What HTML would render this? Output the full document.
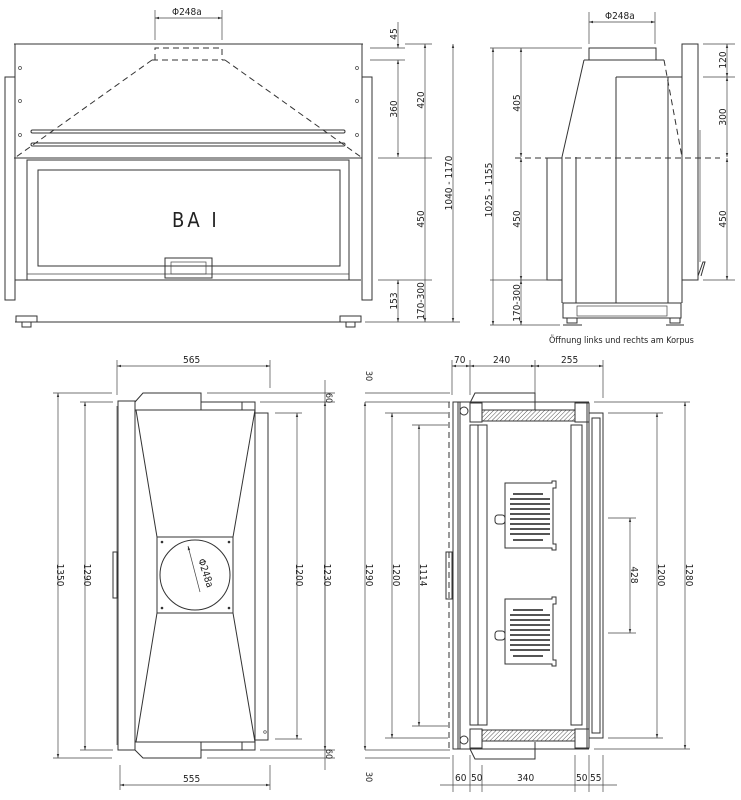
<!DOCTYPE html>
<html><head><meta charset="utf-8"><style>
html,body{margin:0;padding:0;background:#fff;}
svg{display:block;}
text{font-family:"DejaVu Sans Condensed","Liberation Sans",sans-serif;font-size:10px;fill:#222;}
.l{stroke:#333;stroke-width:1;fill:none;}
.t{stroke:#444;stroke-width:0.7;fill:none;}
.d{stroke:#333;stroke-width:1;fill:none;stroke-dasharray:6,4;}
</style></head><body>
<svg width="741" height="800" viewBox="0 0 741 800" xmlns="http://www.w3.org/2000/svg">
<defs>
<marker id="a" viewBox="0 0 10 10" refX="10" refY="5" markerWidth="6" markerHeight="6" orient="auto-start-reverse"><path d="M0,2 L10,5 L0,8 z" fill="#333"/></marker>
<pattern id="h" width="3" height="3" patternUnits="userSpaceOnUse" patternTransform="rotate(45)"><line x1="0" y1="0" x2="0" y2="3" stroke="#555" stroke-width="1"/></pattern>
</defs>

<!-- ========== FRONT VIEW ========== -->
<g>
<line class="t" x1="155" y1="10" x2="155" y2="40"/><line class="t" x1="222" y1="10" x2="222" y2="40"/>
<line class="t" x1="155" y1="18" x2="222" y2="18" marker-start="url(#a)" marker-end="url(#a)"/>
<text x="172" y="15">Φ248a</text>
<line class="l" x1="14" y1="44" x2="363" y2="44"/>
<line class="l" x1="15" y1="44" x2="15" y2="300"/><line class="l" x1="362" y1="44" x2="362" y2="300"/>
<rect class="l" x="5" y="77" width="10" height="223"/>
<rect class="l" x="362" y="77" width="10" height="223"/>
<path class="d" d="M155,60 V48 H222 V60"/>
<line class="d" x1="152" y1="60" x2="225" y2="60" stroke-width="2"/>
<line class="d" x1="152" y1="60" x2="16" y2="157"/><line class="d" x1="225" y1="60" x2="361" y2="157"/>
<rect class="l" x="31" y="130" width="314" height="3" rx="1.5"/>
<rect class="l" x="31" y="143" width="314" height="3" rx="1.5"/>
<line class="l" x1="14" y1="158" x2="362" y2="158"/>
<circle class="t" cx="20" cy="68" r="1.5"/><circle class="t" cx="20" cy="101" r="1.5"/><circle class="t" cx="20" cy="135" r="1.5"/>
<circle class="t" cx="357" cy="68" r="1.5"/><circle class="t" cx="357" cy="101" r="1.5"/><circle class="t" cx="357" cy="135" r="1.5"/>
<rect class="l" x="27" y="160" width="322" height="120"/>
<rect class="l" x="38" y="170" width="302" height="96"/>
<line class="t" x1="27" y1="274" x2="349" y2="274"/>
<rect class="l" x="165" y="258" width="47" height="20"/>
<rect class="t" x="171" y="262" width="35" height="12"/>
<text x="172" y="227" style="font-size:20px;letter-spacing:3px">BA I</text>
<line class="l" x1="15" y1="280" x2="361" y2="280"/>
<line class="l" x1="15" y1="322" x2="361" y2="322"/>
<rect class="l" x="16" y="316" width="21" height="6"/><rect class="l" x="22" y="322" width="9" height="5"/>
<rect class="l" x="340" y="316" width="21" height="6"/><rect class="l" x="346" y="322" width="9" height="5"/>
<!-- dims -->
<line class="t" x1="370" y1="48" x2="405" y2="48"/><line class="t" x1="370" y1="60" x2="405" y2="60"/>
<line class="t" x1="405" y1="44" x2="432" y2="44"/>
<line class="t" x1="378" y1="158" x2="432" y2="158"/>
<line class="t" x1="378" y1="280" x2="432" y2="280"/>
<line class="t" x1="365" y1="322" x2="460" y2="322"/>
<line class="t" x1="398" y1="22" x2="398" y2="48" marker-end="url(#a)"/>
<line class="t" x1="398" y1="60" x2="398" y2="157" marker-start="url(#a)" marker-end="url(#a)"/>
<line class="t" x1="398" y1="280" x2="398" y2="322" marker-start="url(#a)" marker-end="url(#a)"/>
<line class="t" x1="425" y1="44" x2="425" y2="322" marker-start="url(#a)" marker-end="url(#a)"/>
<line class="t" x1="453" y1="44" x2="453" y2="322" marker-start="url(#a)" marker-end="url(#a)"/>
<text transform="translate(397,34) rotate(-90)" text-anchor="middle">45</text>
<text transform="translate(397,109) rotate(-90)" text-anchor="middle">360</text>
<text transform="translate(424,100) rotate(-90)" text-anchor="middle">420</text>
<text transform="translate(424,219) rotate(-90)" text-anchor="middle">450</text>
<text transform="translate(397,301) rotate(-90)" text-anchor="middle">153</text>
<text transform="translate(424,301) rotate(-90)" text-anchor="middle">170-300</text>
<text transform="translate(452,183) rotate(-90)" text-anchor="middle">1040 - 1170</text>
</g>

<!-- ========== SIDE VIEW ========== -->
<g>
<line class="t" x1="589" y1="12" x2="589" y2="44"/><line class="t" x1="655" y1="12" x2="655" y2="44"/>
<line class="t" x1="589" y1="22" x2="655" y2="22" marker-start="url(#a)" marker-end="url(#a)"/>
<text x="605" y="19">Φ248a</text>
<rect class="l" x="589" y="48" width="67" height="12"/>
<line class="l" x1="584" y1="60" x2="664" y2="60"/>
<line class="l" x1="584" y1="60" x2="562" y2="157"/>
<line class="d" x1="664" y1="60" x2="682" y2="157"/>
<line class="l" x1="616" y1="77" x2="682" y2="77"/>
<line class="l" x1="616" y1="77" x2="616" y2="303"/>
<line class="l" x1="562" y1="157" x2="562" y2="303"/>
<line class="l" x1="576" y1="157" x2="576" y2="303"/>
<line class="l" x1="668" y1="77" x2="668" y2="303"/>
<line class="l" x1="682" y1="77" x2="682" y2="303"/>
<rect class="l" x="682" y="44" width="16" height="236"/>
<line class="t" x1="700" y1="130" x2="700" y2="262"/>
<path class="l" d="M698,276 L703,262 L705,262 L701,276"/>
<rect class="l" x="547" y="158" width="15" height="122"/>
<line class="d" x1="515" y1="158" x2="720" y2="158"/>
<rect class="l" x="563" y="303" width="118" height="15"/>
<rect class="t" x="577" y="306" width="90" height="10"/>
<rect class="l" x="567" y="318" width="10" height="5"/><rect class="l" x="670" y="318" width="10" height="5"/>
<line class="l" x1="563" y1="325" x2="582" y2="325"/><line class="l" x1="666" y1="325" x2="684" y2="325"/>
<!-- dims -->
<line class="t" x1="490" y1="48" x2="582" y2="48"/>
<line class="t" x1="490" y1="280" x2="558" y2="280"/>
<line class="t" x1="490" y1="325" x2="560" y2="325"/>
<line class="t" x1="703" y1="44" x2="735" y2="44"/>
<line class="t" x1="703" y1="77" x2="735" y2="77"/>
<line class="t" x1="703" y1="280" x2="735" y2="280"/>
<line class="t" x1="493" y1="48" x2="493" y2="325" marker-start="url(#a)" marker-end="url(#a)"/>
<line class="t" x1="521" y1="48" x2="521" y2="157" marker-start="url(#a)" marker-end="url(#a)"/>
<line class="t" x1="521" y1="158" x2="521" y2="280" marker-start="url(#a)" marker-end="url(#a)"/>
<line class="t" x1="521" y1="280" x2="521" y2="325" marker-start="url(#a)" marker-end="url(#a)"/>
<line class="t" x1="727" y1="44" x2="727" y2="77" marker-start="url(#a)" marker-end="url(#a)"/>
<line class="t" x1="727" y1="77" x2="727" y2="157" marker-start="url(#a)" marker-end="url(#a)"/>
<line class="t" x1="727" y1="158" x2="727" y2="280" marker-start="url(#a)" marker-end="url(#a)"/>
<text transform="translate(492,190) rotate(-90)" text-anchor="middle">1025 - 1155</text>
<text transform="translate(520,103) rotate(-90)" text-anchor="middle">405</text>
<text transform="translate(520,219) rotate(-90)" text-anchor="middle">450</text>
<text transform="translate(520,303) rotate(-90)" text-anchor="middle">170-300</text>
<text transform="translate(726,60) rotate(-90)" text-anchor="middle">120</text>
<text transform="translate(726,117) rotate(-90)" text-anchor="middle">300</text>
<text transform="translate(726,219) rotate(-90)" text-anchor="middle">450</text>
<text x="549" y="343" style="font-size:9px">Öffnung links und rechts am Korpus</text>
</g>

<!-- ========== TOP PLAN LEFT ========== -->
<g>
<line class="t" x1="117" y1="360" x2="117" y2="395"/><line class="t" x1="270" y1="360" x2="270" y2="388"/>
<line class="t" x1="117" y1="366" x2="270" y2="366" marker-start="url(#a)" marker-end="url(#a)"/>
<text x="183" y="363">565</text>
<path class="l" d="M135,402 L143,393 H201 V402"/>
<path class="l" d="M135,750 L143,758 H201 V750"/>
<rect class="l" x="201" y="402" width="54" height="8"/>
<rect class="l" x="201" y="742" width="54" height="8"/>
<line class="l" x1="242" y1="402" x2="242" y2="410"/><line class="l" x1="242" y1="742" x2="242" y2="750"/>
<rect class="l" x="118" y="401" width="17" height="349"/>
<line class="t" x1="117" y1="406" x2="117" y2="745"/>
<rect class="l" x="113" y="552" width="4" height="46"/>
<rect class="l" x="135" y="410" width="120" height="332"/>
<rect class="l" x="255" y="413" width="13" height="327"/>
<rect class="l" x="157" y="537" width="76" height="76"/>
<circle class="l" cx="195" cy="575" r="35"/>
<line class="t" x1="188" y1="546" x2="200" y2="592" marker-start="url(#a)"/>
<text transform="translate(198,560) rotate(72)" style="font-size:10px">Φ248a</text>
<circle cx="162" cy="542" r="1.3" fill="#333"/><circle cx="229" cy="542" r="1.3" fill="#333"/>
<circle cx="162" cy="608" r="1.3" fill="#333"/><circle cx="229" cy="608" r="1.3" fill="#333"/>
<circle class="t" cx="265" cy="732" r="1.3"/>
<line class="l" x1="136" y1="410" x2="157" y2="537"/><line class="l" x1="255" y1="410" x2="233" y2="537"/>
<line class="l" x1="136" y1="742" x2="157" y2="613"/><line class="l" x1="255" y1="742" x2="233" y2="613"/>
<!-- dims -->
<line class="t" x1="53" y1="393" x2="112" y2="393"/><line class="t" x1="53" y1="758" x2="112" y2="758"/>
<line class="t" x1="80" y1="402" x2="113" y2="402"/><line class="t" x1="80" y1="750" x2="113" y2="750"/>
<line class="t" x1="58" y1="393" x2="58" y2="758" marker-start="url(#a)" marker-end="url(#a)"/>
<line class="t" x1="85" y1="402" x2="85" y2="750" marker-start="url(#a)" marker-end="url(#a)"/>
<text transform="translate(57,575) rotate(90)" text-anchor="middle">1350</text>
<text transform="translate(84,575) rotate(90)" text-anchor="middle">1290</text>
<line class="t" x1="207" y1="393" x2="335" y2="393"/><line class="t" x1="207" y1="758" x2="335" y2="758"/>
<line class="t" x1="260" y1="402" x2="335" y2="402"/><line class="t" x1="260" y1="750" x2="335" y2="750"/>
<line class="t" x1="275" y1="413" x2="302" y2="413"/><line class="t" x1="275" y1="739" x2="302" y2="739"/>
<line class="t" x1="297" y1="413" x2="297" y2="739" marker-start="url(#a)" marker-end="url(#a)"/>
<line class="t" x1="325" y1="380" x2="325" y2="770"/>
<line class="t" x1="325" y1="402" x2="325" y2="750" marker-start="url(#a)" marker-end="url(#a)"/>
<text transform="translate(296,575) rotate(90)" text-anchor="middle">1200</text>
<text transform="translate(324,575) rotate(90)" text-anchor="middle">1230</text>
<text transform="translate(326,398) rotate(90)" text-anchor="middle" style="font-size:9px">60</text>
<text transform="translate(326,754) rotate(90)" text-anchor="middle" style="font-size:9px">60</text>
<line class="t" x1="120" y1="765" x2="120" y2="790"/><line class="t" x1="270" y1="765" x2="270" y2="790"/>
<line class="t" x1="120" y1="785" x2="270" y2="785" marker-start="url(#a)" marker-end="url(#a)"/>
<text x="183" y="782">555</text>
</g>

<!-- ========== TOP PLAN RIGHT ========== -->
<g>
<line class="t" x1="452" y1="360" x2="452" y2="395"/><line class="t" x1="470" y1="360" x2="470" y2="395"/>
<line class="t" x1="535" y1="360" x2="535" y2="405"/><line class="t" x1="603" y1="360" x2="603" y2="398"/>
<line class="t" x1="452" y1="366" x2="470" y2="366" marker-start="url(#a)" marker-end="url(#a)"/>
<line class="t" x1="470" y1="366" x2="535" y2="366" marker-start="url(#a)" marker-end="url(#a)"/>
<line class="t" x1="535" y1="366" x2="603" y2="366" marker-start="url(#a)" marker-end="url(#a)"/>
<text x="454" y="363">70</text><text x="493" y="363">240</text><text x="561" y="363">255</text>
<text transform="translate(366,376) rotate(90)" style="font-size:9px" text-anchor="middle">30</text>
<text transform="translate(366,777) rotate(90)" style="font-size:9px" text-anchor="middle">30</text>
<line class="t" x1="365" y1="393" x2="450" y2="393"/><line class="t" x1="365" y1="402" x2="450" y2="402"/>
<line class="t" x1="365" y1="750" x2="450" y2="750"/><line class="t" x1="365" y1="758" x2="450" y2="758"/>
<line class="d" x1="449" y1="402" x2="449" y2="749"/>
<!-- body -->
<path class="l" d="M470,403 L475,393 H535 V410"/>
<path class="l" d="M470,749 L475,759 H535 V742"/>
<rect class="l" x="453" y="402" width="5" height="347"/>
<line class="l" x1="460" y1="402" x2="460" y2="749"/>
<line class="l" x1="453" y1="402" x2="589" y2="402"/><line class="l" x1="453" y1="749" x2="589" y2="749"/>
<rect class="l" x="470" y="403" width="12" height="19"/>
<rect class="l" x="575" y="403" width="14" height="19"/>
<rect class="l" x="470" y="729" width="12" height="19"/>
<rect class="l" x="575" y="729" width="14" height="19"/>
<rect x="482" y="410" width="93" height="11" fill="url(#h)" stroke="#333"/>
<rect x="482" y="730" width="93" height="11" fill="url(#h)" stroke="#333"/>
<rect class="l" x="470" y="425" width="8" height="300"/>
<rect class="l" x="478" y="425" width="9" height="300"/>
<rect class="l" x="571" y="425" width="11" height="300"/>
<line class="l" x1="587" y1="402" x2="587" y2="749"/>
<rect class="l" x="589" y="413" width="14" height="325"/>
<rect class="l" x="592" y="418" width="8" height="315"/>
<circle class="l" cx="464" cy="411" r="4"/><circle class="l" cx="464" cy="740" r="4"/>
<rect class="l" x="446" y="552" width="6" height="47"/>
<!-- grates -->
<g>
<path class="l" d="M505,483 H552 V481 H556 V488 H553 V544 H556 V550 H552 V548 H505 Z"/>
<rect class="l" x="495" y="515" width="10" height="9" rx="3"/>
<g stroke="#555" stroke-width="2">
<line x1="513" y1="494" x2="543" y2="494"/><line x1="510" y1="499" x2="550" y2="499"/><line x1="510" y1="504" x2="550" y2="504"/><line x1="510" y1="509" x2="550" y2="509"/><line x1="510" y1="514" x2="550" y2="514"/><line x1="510" y1="519" x2="550" y2="519"/><line x1="510" y1="524" x2="550" y2="524"/><line x1="510" y1="529" x2="550" y2="529"/><line x1="510" y1="534" x2="550" y2="534"/><line x1="513" y1="540" x2="543" y2="540"/>
</g></g>
<g transform="translate(0,116)">
<path class="l" d="M505,483 H552 V481 H556 V488 H553 V544 H556 V550 H552 V548 H505 Z"/>
<rect class="l" x="495" y="515" width="10" height="9" rx="3"/>
<g stroke="#555" stroke-width="2">
<line x1="513" y1="494" x2="543" y2="494"/><line x1="510" y1="499" x2="550" y2="499"/><line x1="510" y1="504" x2="550" y2="504"/><line x1="510" y1="509" x2="550" y2="509"/><line x1="510" y1="514" x2="550" y2="514"/><line x1="510" y1="519" x2="550" y2="519"/><line x1="510" y1="524" x2="550" y2="524"/><line x1="510" y1="529" x2="550" y2="529"/><line x1="510" y1="534" x2="550" y2="534"/><line x1="513" y1="540" x2="543" y2="540"/>
</g></g>
<!-- dims -->
<line class="t" x1="365" y1="402" x2="365" y2="750" marker-start="url(#a)" marker-end="url(#a)"/>
<line class="t" x1="385" y1="413" x2="448" y2="413"/><line class="t" x1="385" y1="738" x2="448" y2="738"/>
<line class="t" x1="412" y1="425" x2="448" y2="425"/><line class="t" x1="412" y1="726" x2="448" y2="726"/>
<line class="t" x1="392" y1="413" x2="392" y2="738" marker-start="url(#a)" marker-end="url(#a)"/>
<line class="t" x1="419" y1="425" x2="419" y2="726" marker-start="url(#a)" marker-end="url(#a)"/>
<text transform="translate(366,575) rotate(90)" text-anchor="middle">1290</text>
<text transform="translate(393,575) rotate(90)" text-anchor="middle">1200</text>
<text transform="translate(420,575) rotate(90)" text-anchor="middle">1114</text>
<line class="t" x1="608" y1="518" x2="636" y2="518"/><line class="t" x1="608" y1="633" x2="636" y2="633"/>
<line class="t" x1="630" y1="518" x2="630" y2="633" marker-start="url(#a)" marker-end="url(#a)"/>
<text transform="translate(631,575) rotate(90)" text-anchor="middle">428</text>
<line class="t" x1="608" y1="413" x2="663" y2="413"/><line class="t" x1="608" y1="738" x2="663" y2="738"/>
<line class="t" x1="657" y1="413" x2="657" y2="738" marker-start="url(#a)" marker-end="url(#a)"/>
<text transform="translate(658,575) rotate(90)" text-anchor="middle">1200</text>
<line class="t" x1="594" y1="402" x2="690" y2="402"/><line class="t" x1="594" y1="749" x2="690" y2="749"/>
<line class="t" x1="685" y1="402" x2="685" y2="749" marker-start="url(#a)" marker-end="url(#a)"/>
<text transform="translate(686,575) rotate(90)" text-anchor="middle">1280</text>
<!-- bottom dims -->
<line class="t" x1="453" y1="755" x2="453" y2="792"/><line class="t" x1="470" y1="755" x2="470" y2="792"/>
<line class="t" x1="482" y1="765" x2="482" y2="792"/><line class="t" x1="575" y1="755" x2="575" y2="792"/>
<line class="t" x1="589" y1="755" x2="589" y2="792"/><line class="t" x1="603" y1="755" x2="603" y2="792"/>
<line class="t" x1="440" y1="785" x2="617" y2="785"/>
<text x="455" y="781">60</text><text x="471" y="781">50</text><text x="517" y="781">340</text><text x="576" y="781">50</text><text x="590" y="781">55</text>
</g>
</svg>
</body></html>
